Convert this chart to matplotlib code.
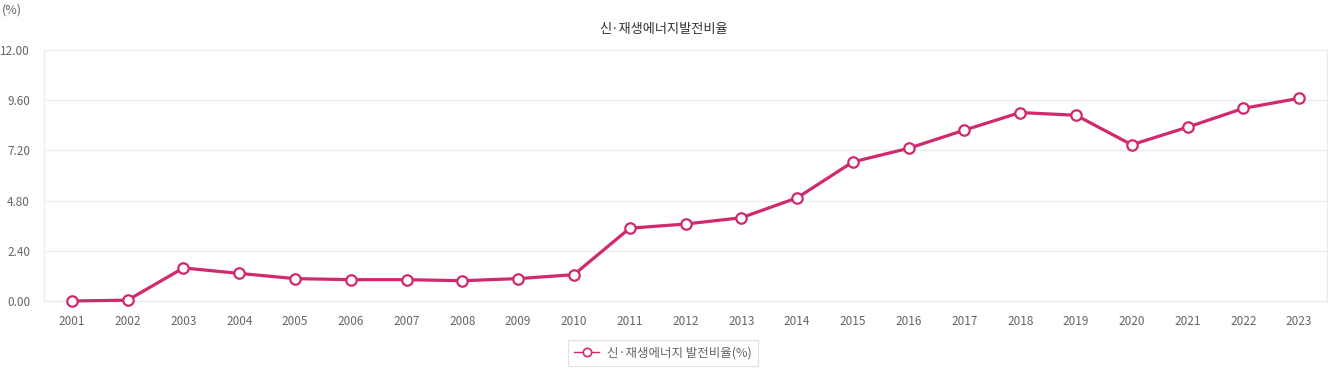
import matplotlib.pyplot as plt
from matplotlib.lines import Line2D

plt.rcParams['font.family'] = ['Noto Sans CJK KR', 'DejaVu Sans']

years = ['2001', '2002', '2003', '2004', '2005', '2006', '2007', '2008', '2009', '2010',
         '2011', '2012', '2013', '2014', '2015', '2016', '2017', '2018', '2019', '2020',
         '2021', '2022', '2023']
ratio = [0.00, 0.04, 1.58, 1.32, 1.07, 1.02, 1.02, 0.97, 1.07, 1.26,
         3.48, 3.68, 3.98, 4.93, 6.65, 7.30, 8.17, 9.01, 8.88, 7.47,
         8.31, 9.21, 9.69]
yticks = [0.0, 2.4, 4.8, 7.2, 9.6, 12.0]

title = '신·재생에너지발전비율'
series_name = '신·재생에너지 발전비율(%)'
color = '#d1286e'
grid_color = '#ebebeb'
text_color = '#666666'

fig = plt.figure(figsize=(13.28, 3.70), dpi=100)
ax = fig.add_axes([44 / 1328, 69 / 370, 1283 / 1328, 251 / 370])

x = list(range(len(years)))
ax.plot(x, ratio, color=color, lw=2.3, marker='o', ms=7.5,
        mfc='white', mec=color, mew=1.6, zorder=3, clip_on=False)

ax.set_xlim(-0.5, len(years) - 0.5)
ax.set_ylim(0, 12)
ax.set_xticks(x)
ax.set_xticklabels(years)
ax.set_yticks(yticks)
ax.set_yticklabels([f'{v:.2f}' for v in yticks])
ax.tick_params(length=0, labelsize=8.5, colors=text_color)
ax.tick_params(axis='x', pad=10)
ax.tick_params(axis='y', pad=10)
ax.grid(axis='y', color=grid_color, lw=0.9)
ax.set_axisbelow(True)
for side in ['left', 'right', 'bottom']:
    ax.spines[side].set_color(grid_color)
    ax.spines[side].set_linewidth(0.9)
ax.spines['top'].set_visible(False)

fig.text(0.5, 1 - 30 / 370, title, ha='center', va='center', fontsize=9.5, color='#333333')
fig.text(2 / 1328, 1 - 10 / 370, '(%)', ha='left', va='center', fontsize=9, color=text_color)

handle = Line2D([], [], color=color, lw=1, marker='o', ms=6, mfc='white', mec=color, mew=1.2)
leg = fig.legend([handle], [series_name], loc='center', bbox_to_anchor=(663 / 1328, 1 - 353 / 370),
                 frameon=True, fancybox=False, fontsize=9, handlelength=2.0,
                 borderpad=0.5, handletextpad=0.6, labelcolor=text_color)
leg.get_frame().set_edgecolor('#dddddd')
leg.get_frame().set_linewidth(0.9)

fig.savefig('out.png', dpi=100)
